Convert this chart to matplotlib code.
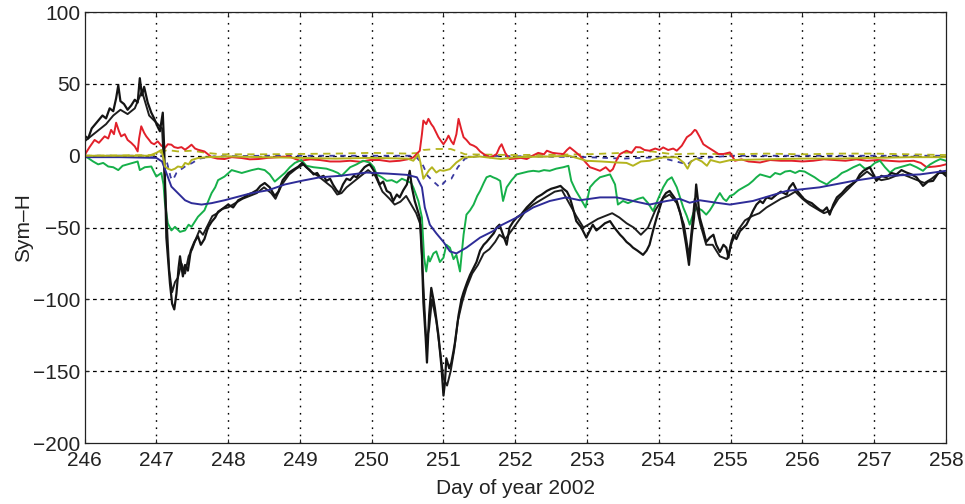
import matplotlib
matplotlib.use('Agg')
import matplotlib.pyplot as plt

plt.rcParams['font.family'] = ['Liberation Sans', 'DejaVu Sans']

# Observed Sym-H (black, thick)
obs_t = [246.00, 246.05, 246.10, 246.15, 246.20, 246.25, 246.30, 246.35, 246.40, 246.44,
         246.47, 246.50, 246.55, 246.60, 246.65, 246.70, 246.74, 246.77, 246.80, 246.83,
         246.88, 246.93, 246.97, 247.02, 247.05, 247.09, 247.11, 247.14, 247.19, 247.22,
         247.25, 247.28, 247.31, 247.33, 247.37, 247.40, 247.44, 247.48, 247.53, 247.58,
         247.62, 247.67, 247.72, 247.77, 247.82, 247.86, 247.92, 248.00, 248.07, 248.14,
         248.22, 248.28, 248.33, 248.40, 248.45, 248.51, 248.58, 248.65, 248.70, 248.76,
         248.84, 248.90, 248.98, 249.03, 249.09, 249.14, 249.19, 249.24, 249.28, 249.33,
         249.37, 249.42, 249.46, 249.51, 249.55, 249.60, 249.65, 249.70, 249.75, 249.79,
         249.85, 249.90, 249.93, 249.97, 250.00, 250.05, 250.11, 250.16, 250.21, 250.26,
         250.30, 250.35, 250.39, 250.44, 250.49, 250.53, 250.56, 250.60, 250.64, 250.67,
         250.70, 250.72, 250.75, 250.77, 250.80, 250.83, 250.86, 250.88, 250.93, 250.97,
         251.00, 251.02, 251.04, 251.08, 251.11, 251.14, 251.16, 251.21, 251.25, 251.28,
         251.33, 251.37, 251.42, 251.46, 251.51, 251.56, 251.60, 251.65, 251.70, 251.74,
         251.78, 251.83, 251.88, 251.92, 251.97, 252.02, 252.08, 252.16, 252.22, 252.30,
         252.37, 252.44, 252.50, 252.57, 252.63, 252.67, 252.72, 252.76, 252.80, 252.85,
         252.92, 252.99, 253.04, 253.08, 253.13, 253.18, 253.25, 253.32, 253.38, 253.46,
         253.50, 253.55, 253.60, 253.64, 253.70, 253.78, 253.83, 253.87, 253.92, 253.97,
         254.02, 254.06, 254.10, 254.15, 254.20, 254.25, 254.30, 254.34, 254.38, 254.42,
         254.46, 254.49, 254.52, 254.55, 254.57, 254.62, 254.66, 254.71, 254.76, 254.80,
         254.85, 254.90, 254.94, 254.97, 255.00, 255.04, 255.08, 255.13, 255.18, 255.22,
         255.27, 255.31, 255.36, 255.41, 255.45, 255.50, 255.57, 255.64, 255.70, 255.78,
         255.82, 255.87, 255.92, 255.97, 256.02, 256.06, 256.13, 256.20, 256.25, 256.29,
         256.34, 256.38, 256.43, 256.48, 256.55, 256.62, 256.68, 256.75, 256.80, 256.85,
         256.94, 256.99, 257.03, 257.10, 257.17, 257.24, 257.31, 257.38, 257.45, 257.52,
         257.59, 257.68, 257.75, 257.82, 257.88, 257.92, 258.00]
obs_v = [14, 12, 19, 22, 25, 28, 26, 33, 31, 40,
         49, 38, 36, 32, 35, 39, 37, 54, 42, 48,
         37, 30, 26, 20, 17, 30, 5, -57, -89, -103,
         -107, -96, -78, -70, -84, -76, -80, -66, -60, -56,
         -62, -58, -50, -46, -43, -39, -37, -34, -36, -31,
         -29, -27, -26, -24, -21, -19, -22, -28, -25, -17,
         -12, -10, -7.5, -5, -8, -10, -13, -12, -15, -14,
         -17.5, -16, -20, -24, -26, -20, -16, -17, -14, -15,
         -11, -8, -7, -6, -8, -12, -20, -18, -24.5, -26,
         -31.5, -27, -29, -24, -20, -10.5, -22, -31.5, -38, -43,
         -70, -102, -125, -144, -111, -92, -100, -106, -125, -146,
         -167, -158, -141, -148, -144, -136, -130, -111, -100, -95,
         -88, -83, -78, -74, -66, -62, -60, -57, -54, -50,
         -48, -55, -62, -50, -46, -43, -41, -36, -33, -29,
         -27, -24.5, -23, -22, -21, -23, -25, -29, -36, -45.5,
         -50, -57, -52, -48, -52, -50, -47, -45.5, -50, -55,
         -57, -60, -62, -64, -66, -69, -66, -62, -52, -43,
         -35, -29, -26, -24.5, -28, -31.5, -40, -50, -62, -76,
         -55, -43, -20, -33, -43, -52, -60, -57, -55, -62,
         -67, -62, -64, -71, -62, -55, -58, -52.5, -50, -48,
         -43, -38.5, -34, -31.5, -33, -29, -30, -27, -25, -27,
         -22, -19, -24, -27, -30, -31.5, -33, -36, -38, -38.5,
         -36, -41, -34, -29, -26, -22, -20, -17.5, -13, -10.5,
         -8, -13, -17.5, -14, -15, -12, -13, -10, -11.7, -13,
         -15, -21, -18, -17.5, -13, -10.5, -14]

# Modelled Sym-H (black, second line)
mod_t = [246.00, 246.10, 246.20, 246.30, 246.40, 246.50, 246.60, 246.70, 246.80, 246.90,
         247.00, 247.08, 247.12, 247.18, 247.22, 247.26, 247.30, 247.35, 247.40, 247.45,
         247.50, 247.55, 247.60, 247.65, 247.70, 247.78, 247.85, 247.92, 248.00, 248.10,
         248.20, 248.30, 248.40, 248.50, 248.60, 248.66, 248.75, 248.85, 248.95, 249.05,
         249.15, 249.25, 249.35, 249.45, 249.52, 249.58, 249.65, 249.75, 249.85, 249.95,
         250.05, 250.15, 250.25, 250.32, 250.40, 250.48, 250.55, 250.62, 250.68, 250.72,
         250.76, 250.80, 250.84, 250.90, 250.95, 251.00, 251.05, 251.10, 251.15, 251.20,
         251.26, 251.32, 251.40, 251.48, 251.56, 251.64, 251.72, 251.78, 251.86, 251.95,
         252.05, 252.15, 252.25, 252.35, 252.45, 252.55, 252.65, 252.75, 252.85, 252.95,
         253.05, 253.15, 253.25, 253.35, 253.45, 253.55, 253.65, 253.75, 253.85, 253.95,
         254.05, 254.15, 254.25, 254.35, 254.42, 254.50, 254.58, 254.66, 254.75, 254.85,
         254.95, 255.02, 255.10, 255.20, 255.30, 255.40, 255.50, 255.60, 255.70, 255.80,
         255.90, 256.00, 256.10, 256.20, 256.30, 256.40, 256.50, 256.60, 256.70, 256.80,
         256.90, 257.00, 257.10, 257.20, 257.30, 257.40, 257.50, 257.60, 257.70, 257.80,
         257.90, 258.00]
mod_v = [10, 14, 18, 22, 28, 32, 29, 33, 45, 28,
         23, 19, -20, -80, -95, -88, -85, -75, -82, -70,
         -65, -58, -52, -55, -50, -42, -40, -37, -36, -33,
         -30, -28, -26, -22, -26, -30, -20, -13, -9, -6,
         -11, -14, -18, -22, -27, -26, -22, -18, -14, -10,
         -14, -25, -30, -34, -32, -28, -34, -40, -48, -90,
         -130, -120, -100, -115, -135, -155, -160, -150, -135, -115,
         -102, -92, -82, -76, -68, -65, -60, -55, -58, -52,
         -45, -38, -34, -31, -28, -25, -24, -33, -42, -50,
         -47, -44, -42, -40, -43, -47, -50, -55, -50, -38,
         -30, -27, -33, -48, -70, -30, -48, -62, -62, -70,
         -72, -60, -52, -45, -42, -40, -36, -33, -30, -28,
         -25, -30, -34, -37, -40, -38, -30, -25, -20, -15,
         -11, -15, -17, -16, -14, -13, -15, -17, -19, -16,
         -12, -12]

# Green component
grn_t = [246.00, 246.05, 246.12, 246.19, 246.26, 246.33, 246.40, 246.47, 246.53, 246.60,
         246.67, 246.74, 246.77, 246.84, 246.93, 247.00, 247.07, 247.10, 247.12, 247.16,
         247.21, 247.26, 247.33, 247.40, 247.45, 247.49, 247.58, 247.63, 247.67, 247.72,
         247.77, 247.82, 247.86, 247.95, 248.05, 248.12, 248.19, 248.26, 248.33, 248.42,
         248.51, 248.58, 248.65, 248.72, 248.79, 248.86, 248.93, 249.02, 249.09, 249.19,
         249.28, 249.37, 249.46, 249.53, 249.58, 249.64, 249.70, 249.79, 249.88, 249.97,
         250.03, 250.07, 250.14, 250.21, 250.28, 250.35, 250.42, 250.49, 250.55, 250.58,
         250.65, 250.70, 250.73, 250.76, 250.79, 250.81, 250.86, 250.90, 250.95, 251.00,
         251.04, 251.09, 251.14, 251.18, 251.23, 251.26, 251.28, 251.32, 251.37, 251.42,
         251.47, 251.51, 251.56, 251.60, 251.65, 251.69, 251.74, 251.79, 251.81, 251.83,
         251.88, 251.95, 252.02, 252.10, 252.18, 252.25, 252.33, 252.40, 252.48, 252.57,
         252.67, 252.74, 252.78, 252.84, 252.90, 252.98, 253.04, 253.11, 253.18, 253.25,
         253.32, 253.39, 253.43, 253.50, 253.57, 253.64, 253.71, 253.78, 253.85, 253.92,
         253.99, 254.06, 254.12, 254.18, 254.25, 254.34, 254.39, 254.43, 254.48, 254.53,
         254.60, 254.66, 254.71, 254.76, 254.80, 254.85, 254.90, 254.94, 254.99, 255.04,
         255.11, 255.18, 255.25, 255.31, 255.36, 255.41, 255.48, 255.55, 255.62, 255.69,
         255.76, 255.83, 255.90, 255.96, 256.03, 256.10, 256.17, 256.24, 256.30, 256.34,
         256.41, 256.48, 256.55, 256.62, 256.71, 256.80, 256.87, 256.94, 257.01, 257.08,
         257.15, 257.22, 257.29, 257.36, 257.43, 257.50, 257.59, 257.68, 257.73, 257.78,
         257.85, 257.92, 258.00]
grn_v = [0, -1.6, -4, -6, -5, -7.5, -8, -10, -7, -6,
         -5, -4, -10, -8, -7.5, -14.5, -12, -20, -33, -47,
         -52, -49.5, -53, -52, -48, -49.5, -42.5, -40, -38, -32,
         -26, -22, -17, -14.5, -10, -11, -12, -11, -10, -9,
         -10, -13, -18, -15, -12, -8, -5, -3, -7, -8,
         -8.5, -9, -10.5, -12, -14, -11, -8, -6, -3.5, -4.7,
         -8, -13, -15, -17.5, -17, -18.7, -16, -17.5, -19, -22,
         -31.5, -43, -71, -80.6, -70, -73.6, -68, -66.6, -74, -71,
         -62, -64, -72, -69, -80.6, -65, -55, -41, -38, -34,
         -28, -24.5, -19, -15, -14, -15, -16, -17.5, -25, -31.5,
         -22, -17, -13, -12, -11, -10.5, -11, -10, -10.5, -9,
         -8, -7, -17.5, -24, -29, -36, -22, -18, -15, -14,
         -13, -20, -34, -31.5, -33, -31.5, -30, -29, -33, -38.5,
         -30, -22, -17, -15, -22, -36, -42, -48, -40, -36,
         -38, -41, -38, -34, -30, -26, -30, -31.5, -28, -27,
         -24, -22, -20, -17.5, -15, -13, -14, -15, -12, -13,
         -11, -10.5, -12, -10.5, -11, -13, -15, -17.5, -19, -20,
         -17, -15, -12, -10.5, -8, -6, -9, -8, -5, -3.5,
         -8, -11.7, -9, -8, -7, -6, -8, -10.5, -8, -6,
         -4, -2.3, -3.5]

# Blue (smooth) component
blu_t = [246.0, 246.5, 247.0, 247.08, 247.14, 247.21, 247.30, 247.40, 247.49, 247.63,
         247.77, 247.95, 248.14, 248.33, 248.56, 248.79, 249.02, 249.28, 249.56, 249.93,
         250.21, 250.49, 250.63, 250.70, 250.74, 250.81, 250.90, 251.00, 251.09, 251.18,
         251.32, 251.51, 251.69, 251.78, 252.02, 252.25, 252.48, 252.71, 252.90, 253.18,
         253.41, 253.64, 253.87, 254.11, 254.29, 254.43, 254.57, 254.80, 254.99, 255.31,
         255.78, 256.24, 256.71, 257.17, 257.64, 258.0]
blu_v = [-1, -1, -1.5, -4, -12, -21.5, -26, -31, -33, -34,
         -33, -31, -28.5, -26, -24, -20, -17.5, -15, -14, -11.7,
         -12.4, -13.3, -15, -22, -36, -48, -54, -60, -66.6, -68,
         -64, -57, -52.5, -49, -43, -36, -31.5, -29, -31, -29,
         -29, -31.5, -34, -31.5, -30, -32.7, -31, -32.7, -34, -31.5,
         -24.5, -22, -17.5, -14, -13, -10.5]

# Red component
red_t = [246.00, 246.02, 246.07, 246.14, 246.20, 246.28, 246.33, 246.37, 246.41, 246.44,
         246.48, 246.51, 246.56, 246.60, 246.65, 246.70, 246.74, 246.76, 246.79, 246.83,
         246.86, 246.90, 246.93, 246.97, 247.02, 247.07, 247.12, 247.16, 247.21, 247.25,
         247.30, 247.35, 247.40, 247.45, 247.49, 247.54, 247.58, 247.63, 247.67, 247.72,
         247.77, 247.85, 247.95, 248.05, 248.19, 248.30, 248.42, 248.55, 248.70, 248.85,
         249.00, 249.15, 249.28, 249.42, 249.56, 249.70, 249.84, 249.98, 250.11, 250.25,
         250.39, 250.50, 250.58, 250.67, 250.70, 250.72, 250.76, 250.79, 250.83, 250.86,
         250.90, 250.93, 250.97, 251.00, 251.04, 251.07, 251.11, 251.14, 251.18, 251.21,
         251.25, 251.28, 251.32, 251.37, 251.42, 251.46, 251.51, 251.56, 251.60, 251.65,
         251.70, 251.74, 251.78, 251.81, 251.86, 251.92, 252.00, 252.08, 252.16, 252.24,
         252.32, 252.40, 252.44, 252.52, 252.60, 252.67, 252.72, 252.76, 252.83, 252.90,
         252.97, 253.04, 253.10, 253.18, 253.26, 253.32, 253.36, 253.42, 253.46, 253.55,
         253.62, 253.68, 253.74, 253.80, 253.87, 253.95, 254.01, 254.06, 254.13, 254.20,
         254.25, 254.32, 254.39, 254.45, 254.50, 254.52, 254.57, 254.62, 254.68, 254.76,
         254.83, 254.90, 254.99, 255.06, 255.15, 255.25, 255.41, 255.55, 255.70, 255.85,
         256.00, 256.15, 256.30, 256.45, 256.60, 256.75, 256.90, 257.05, 257.20, 257.35,
         257.55, 257.65, 257.73, 257.85, 257.92, 258.00]
red_v = [0, 2, 6, 11, 9, 13.5, 12, 18, 15, 23,
         17, 13.5, 15, 11, 9, 6.5, 3, 12, 20.5, 16,
         13.5, 11, 9, 8, 10, 7, 5.4, 8, 7.7, 6,
         5.4, 6, 4.2, 6, 7.7, 5, 4.2, 3.5, 3, 1,
         -1, -2, -2.3, -1, -1.6, -2.5, -2.3, -1.5, -1, -0.5,
         -3.5, -2.5, -3, -4, -4, -3.5, -4.2, -3, -3, -4,
         -3.5, -2.5, -1.2, 3.5, 15, 24.5, 22, 25.7, 22, 20,
         16, 12.9, 10, 8, 11, 14, 10, 8, 15, 25.7,
         18, 12.9, 11, 8, 7, 5.8, 3, 1.2, 0, -1.2,
         0, 1.2, 5.8, 8, 2, -2.3, -2, -1.5, -2.3, 0,
         2, 1, 3.5, 2, 1.5, 1.2, 4, 5.8, 3, 0,
         -4, -8, -9, -10.5, -8, -11, -9.3, -2, 1.2, 3.5,
         2, 6, 5.8, 4, 3.5, 5, 4, 5.8, 4, 5,
         3.5, 7, 12.9, 15, 18, 17.5, 13, 8, 6, 3.5,
         1.2, 1.2, 2.3, -3.5, -2.5, -4, -4.7, -3, -3.5, -3.5,
         -4, -3.5, -2.5, -3, -3.5, -2.5, -3.5, -3, -3.5, -4,
         -3.5, -5, -8, -7.5, -7, -6]

# Olive component (solid)
olv_t = [246.0, 246.9, 247.0, 247.07, 247.10, 247.12, 247.16, 247.21, 247.26, 247.30,
         247.36, 247.40, 247.45, 247.49, 247.58, 247.72, 248.0, 248.5, 249.0, 249.5,
         250.0, 250.5, 250.58, 250.65, 250.68, 250.72, 250.76, 250.80, 250.84, 250.90,
         250.95, 251.00, 251.09, 251.18, 251.28, 251.5, 251.8, 252.0, 252.5, 252.75,
         252.99, 253.2, 253.41, 253.55, 253.64, 253.75, 253.87, 253.97, 254.06, 254.25,
         254.35, 254.40, 254.45, 254.52, 254.60, 254.67, 254.72, 254.85, 255.0, 255.5,
         256.0, 256.5, 257.0, 257.5, 258.0]
olv_v = [0, 0, 2, 4, -2, -7.5, -9, -10, -9, -7.5,
         -8, -5, -6, -3, -1.6, -1, -0.5, -1, -1.5, -2,
         -1.5, -2, -3.5, 1, -5, -16, -13, -10, -8, -11.7,
         -10, -10.5, -9.3, -4.7, -1.2, -0.5, -2.3, -1, -0.5, 0,
         -3.5, -4, -4.7, -5, -7, -4, -3.5, -2, -1.2, -1,
         -5, -9, -4, -2, -4, -7, -3, -4.7, -3, -2.5,
         -2, -2, -1.5, -1, -1]

# Olive component (dashed, positive)
olv2_t = [246.0, 247.0, 247.05, 247.15, 247.3, 247.5, 247.7, 247.9, 248.5, 249.5,
          250.0, 250.5, 250.68, 250.72, 250.9, 251.1, 251.2, 251.3, 252.0, 253.0,
          253.5, 253.9, 254.2, 254.5, 255.0, 255.5, 256.0, 256.5, 257.0, 257.5, 258.0]
olv2_v = [0, 0.5, 2, 4, 3, 3.5, 2, 1, 1, 1.5,
          2, 1.5, 2, 4, 4.7, 4.7, 3, 1, 0.5, 1,
          2, 3, 1, 1.5, 1, 1.5, 1, 1.5, 1.5, 1, 0.5]

# Navy component (dashed)
nav_t = [246.0, 247.1, 247.15, 247.2, 247.23, 247.28, 247.33, 247.40, 247.5, 247.6,
         247.8, 248.5, 250.6, 250.7, 250.78, 250.85, 250.95, 251.03, 251.11, 251.2,
         251.3, 251.5, 253.0, 253.5, 254.0, 254.4, 254.5, 255.0, 258.0]
nav_v = [0, 0, -5, -15, -17, -12, -10, -7.5, -5, -2,
         -0.5, 0, 0, -5, -14, -17.5, -22, -17.5, -16, -8,
         -2, 0, -1, -2, -1, -6, -2, 0, 0]

x_ticks = list(range(246, 259))
y_ticks = [-200, -150, -100, -50, 0, 50, 100]

fig = plt.figure(figsize=(9.65, 5.04), dpi=100)
ax = fig.add_axes([0.0876, 0.121, 0.8927, 0.855])

ax.plot(nav_t, nav_v, color='#3a3aa0', lw=1.3, linestyle=(0, (3, 3)))
ax.plot(olv2_t, olv2_v, color='#b4b41e', lw=1.3, linestyle=(0, (4, 3)))
ax.plot(red_t, red_v, color='#e2202a', lw=1.4)
ax.plot(grn_t, grn_v, color='#16b04a', lw=1.4)
ax.plot(mod_t, mod_v, color='#1e1e1e', lw=1.4)
ax.plot(obs_t, obs_v, color='#141414', lw=1.6)
ax.plot(blu_t, blu_v, color='#2e2c98', lw=1.4)
ax.plot(olv_t, olv_v, color='#b4b41e', lw=1.4)

ax.set_xlim(246, 258)
ax.set_ylim(-200, 100)
ax.set_xticks(x_ticks)
ax.set_yticks(y_ticks)
ax.set_xticklabels([str(t) for t in x_ticks])

for t in x_ticks[1:-1]:
    ax.axvline(t, color='black', lw=1.0, linestyle=(0, (1.2, 4)), zorder=0.5)
for v in y_ticks[1:]:
    ax.axhline(v, color='black', lw=0.9, linestyle=(0, (3, 3)), zorder=0.5)

ax.tick_params(direction='in', length=3, width=0.8, top=True, right=True,
               labelsize=15, colors='#222222')
ax.tick_params(axis='x', pad=6)
ax.tick_params(axis='y', pad=3)
for s in ax.spines.values():
    s.set_linewidth(0.9)
    s.set_color('#222222')

ax.set_xlabel('Day of year 2002', fontsize=15, color='#222222', labelpad=6)
ax.set_ylabel('Sym–H', fontsize=15, color='#222222', labelpad=0)

fig.savefig('out.png', dpi=100)
